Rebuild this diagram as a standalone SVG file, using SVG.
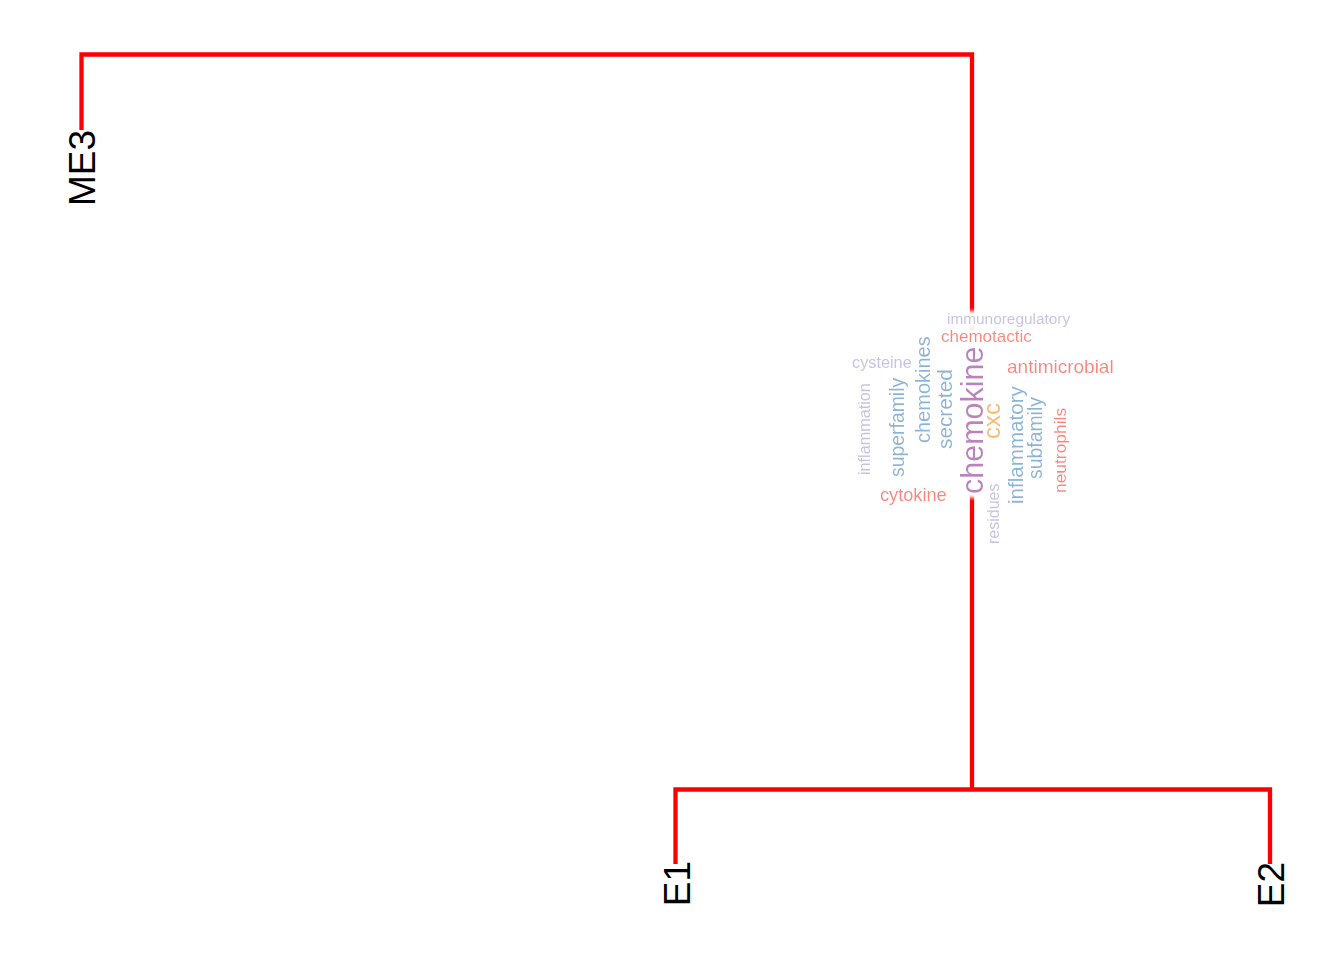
<svg xmlns="http://www.w3.org/2000/svg" width="1344" height="960" viewBox="0 0 1344 960">
<style>
.edge{fill:none;stroke:#ff0000;stroke-width:4.3;stroke-linecap:butt;stroke-linejoin:miter}
.lbl{font-family:"Liberation Sans",Arial,sans-serif;font-size:37px;fill:#000}
.w{font-family:"Liberation Sans",Arial,sans-serif}
.lav{fill:#c8c2e2}
.blu{fill:#89b4d8}
.sal{fill:#fb8579}
.ora{fill:#fdb868}
.pur{fill:#bc82bf}
</style>
<defs>
<filter id="halo" x="-30%" y="-30%" width="160%" height="160%">
<feMorphology in="SourceAlpha" operator="dilate" radius="3" result="d"/>
<feGaussianBlur in="d" stdDeviation="2.5" result="b"/>
<feFlood flood-color="#ffffff"/>
<feComposite in2="b" operator="in" result="w"/>
<feMerge><feMergeNode in="w"/><feMergeNode in="w"/><feMergeNode in="w"/><feMergeNode in="SourceGraphic"/></feMerge>
</filter>
</defs>
<rect width="1344" height="960" fill="#ffffff"/>
<g id="connectors">
<path class="edge" d="M81.5,130 V54.5 H972 V789.5"/>
<path class="edge" d="M675.5,864 V789.5 H1270 V864"/>
</g>
<g id="node-ME3"><text class="lbl" text-anchor="end" transform="translate(95,130) rotate(-90)">ME3</text></g>
<g id="node-E1"><text class="lbl" text-anchor="end" transform="translate(690,861) rotate(-90)">E1</text></g>
<g id="node-E2"><text class="lbl" text-anchor="end" transform="translate(1284,862) rotate(-90)">E2</text></g>
<g id="wordcloud" filter="url(#halo)">
<text class="w lav" x="947" y="324" font-size="15.4">immunoregulatory</text>
<text class="w sal" x="941" y="342" font-size="17">chemotactic</text>
<text class="w sal" x="1007" y="373" font-size="19">antimicrobial</text>
<text class="w lav" x="852" y="368" font-size="16.3">cysteine</text>
<text class="w sal" x="880" y="501" font-size="18.2">cytokine</text>
<text class="w lav" font-size="16.2" transform="translate(870,475) rotate(-90)">inflammation</text>
<text class="w blu" font-size="19.4" transform="translate(904,477) rotate(-90)">superfamily</text>
<text class="w blu" font-size="20" transform="translate(930,443) rotate(-90)">chemokines</text>
<text class="w blu" font-size="20.8" transform="translate(952,449) rotate(-90)">secreted</text>
<text class="w pur" font-size="30.5" transform="translate(983,494) rotate(-90)">chemokine</text>
<text class="w ora" font-size="24" transform="translate(1000,439) rotate(-90)">cxc</text>
<text class="w blu" font-size="20.6" transform="translate(1023,504) rotate(-90)">inflammatory</text>
<text class="w blu" font-size="19.4" transform="translate(1042,479) rotate(-90)">subfamily</text>
<text class="w sal" font-size="17.4" transform="translate(1066,493) rotate(-90)">neutrophils</text>
<text class="w lav" font-size="16" transform="translate(999,544) rotate(-90)">residues</text>
</g>
</svg>
